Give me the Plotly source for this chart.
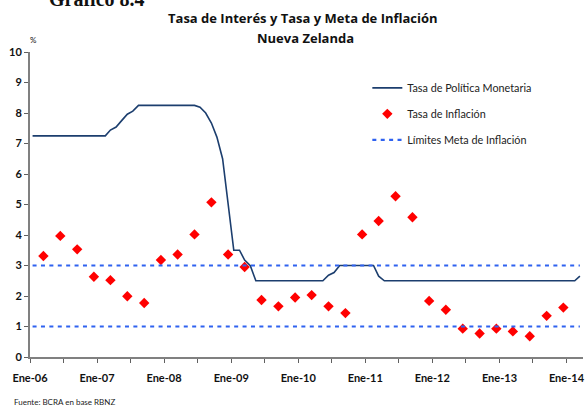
import plotly.graph_objects as go
import pandas as pd

# --- Data ---------------------------------------------------------------
ocr_dates = [d + pd.Timedelta(days=14) for d in pd.date_range("2006-01-01", "2014-03-01", freq="MS")]
ocr_values = [
    7.25, 7.25, 7.25, 7.25, 7.25, 7.25, 7.25, 7.25, 7.25, 7.25, 7.25, 7.25,   # 2006
    7.25, 7.25, 7.44, 7.54, 7.75, 7.96, 8.06, 8.25, 8.25, 8.25, 8.25, 8.25,   # 2007
    8.25, 8.25, 8.25, 8.25, 8.25, 8.25, 8.19, 8.00, 7.67, 7.21, 6.50, 5.00,   # 2008
    3.50, 3.50, 3.18, 2.99, 2.50, 2.50, 2.50, 2.50, 2.50, 2.50, 2.50, 2.50,   # 2009
    2.50, 2.50, 2.50, 2.50, 2.50, 2.68, 2.77, 3.00, 3.00, 3.00, 3.00, 3.00,   # 2010
    3.00, 3.00, 2.65, 2.50, 2.50, 2.50, 2.50, 2.50, 2.50, 2.50, 2.50, 2.50,   # 2011
    2.50, 2.50, 2.50, 2.50, 2.50, 2.50, 2.50, 2.50, 2.50, 2.50, 2.50, 2.50,   # 2012
    2.50, 2.50, 2.50, 2.50, 2.50, 2.50, 2.50, 2.50, 2.50, 2.50, 2.50, 2.50,   # 2013
    2.50, 2.50, 2.65,                                                         # 2014
]

infl_dates = [d + pd.Timedelta(days=14) for d in pd.date_range("2006-03-01", "2013-12-01", freq="3MS")]
infl_values = [
    3.31, 3.97, 3.53, 2.63,
    2.52, 1.99, 1.77, 3.18,
    3.36, 4.02, 5.07, 3.36,
    2.95, 1.87, 1.66, 1.95,
    2.03, 1.66, 1.44, 4.02,
    4.46, 5.27, 4.58, 1.84,
    1.55, 0.93, 0.77, 0.93,
    0.84, 0.68, 1.35, 1.62,
]

target_upper = [3.0 for _ in ocr_dates]
target_lower = [1.0 for _ in ocr_dates]

tick_dates = list(pd.date_range("2006-01-01", "2014-01-01", freq="6MS"))
tick_text = [("Ene-%02d" % (d.year % 100)) if d.month == 1 else "" for d in tick_dates]

FONT = "Lato"
TFONT = "Open Sans"

fig = go.Figure()

fig.add_trace(go.Scatter(
    x=ocr_dates, y=ocr_values, mode="lines",
    name="Tasa de Política Monetaria",
    line=dict(color="#1c3e6e", width=1.6),
    legendgroup="a",
))
fig.add_trace(go.Scatter(
    x=infl_dates, y=infl_values, mode="markers",
    name="Tasa de Inflación",
    marker=dict(symbol="diamond", size=8, color="#ff0000", line=dict(width=0)),
    legendgroup="b",
))
fig.add_trace(go.Scatter(
    x=ocr_dates, y=target_upper, mode="lines",
    name="Límites Meta de Inflación",
    line=dict(color="#2f62f0", width=2.2, dash="4px,4.4px"),
    legendgroup="c",
))
fig.add_trace(go.Scatter(
    x=ocr_dates, y=target_lower, mode="lines",
    name="Límites Meta de Inflación",
    line=dict(color="#2f62f0", width=2.2, dash="4px,4.4px"),
    showlegend=False,
    legendgroup="c",
))

fig.update_layout(
    width=588, height=410,
    margin=dict(l=30, r=5, t=52, b=53),
    paper_bgcolor="white", plot_bgcolor="white",
    font=dict(family=FONT, color="#111111"),
    showlegend=True,
    legend=dict(
        x=0.61, y=0.93, xanchor="left", yanchor="top",
        bgcolor="rgba(0,0,0,0)",
        font=dict(family=FONT, size=10.8, color="#222222"),
        itemwidth=30, tracegroupgap=7,
    ),
    xaxis=dict(
        type="date", automargin=False,
        range=["2006-01-01", "2014-04-01"],
        tickvals=tick_dates, ticktext=tick_text,
        showgrid=False, zeroline=False,
        showline=True, linecolor="#808080", linewidth=2,
        ticks="outside", ticklen=4, tickwidth=1, tickcolor="#606060",
        ticklabelstandoff=6,
        tickfont=dict(family=FONT, size=11, color="#111111", weight="bold"),
    ),
    yaxis=dict(
        range=[0, 10], dtick=1, automargin=False,
        showgrid=False, zeroline=False,
        showline=True, linecolor="#808080", linewidth=2,
        ticks="outside", ticklen=4, tickwidth=1, tickcolor="#606060",
        tickfont=dict(family=FONT, size=11, color="#111111", weight="bold"),
    ),
    annotations=[
        dict(text="Gráfico 8.4", xref="paper", yref="paper",
             x=(47 - 30) / 553, y=(356.7 + 1) / 304.7, xanchor="left", yanchor="middle",
             showarrow=False,
             font=dict(family="Liberation Serif", size=20, color="#111111", weight="bold")),
        dict(text="Tasa de Interés y Tasa y Meta de Inflación", xref="paper", yref="paper",
             x=(303 - 30) / 553, y=(356.7 - 18) / 304.7, xanchor="center", yanchor="middle",
             showarrow=False,
             font=dict(family=TFONT, size=13, color="#111111", weight="bold")),
        dict(text="Nueva Zelanda", xref="paper", yref="paper",
             x=(305 - 30) / 553, y=(356.7 - 38) / 304.7, xanchor="center", yanchor="middle",
             showarrow=False,
             font=dict(family=TFONT, size=13, color="#111111", weight="bold")),
        dict(text="%", xref="paper", yref="paper",
             x=(33 - 30) / 553, y=(356.7 - 40) / 304.7, xanchor="center", yanchor="middle",
             showarrow=False,
             font=dict(family=FONT, size=8, color="#111111")),
        dict(text="Fuente: BCRA en base RBNZ", xref="paper", yref="paper",
             x=(12 - 30) / 553, y=(356.7 - 401.5) / 304.7, xanchor="left", yanchor="middle",
             showarrow=False,
             font=dict(family=FONT, size=8, color="#222222")),
    ],
)

fig.write_html(
    "out.html",
    config={"displayModeBar": False},
    post_script="document.body.style.margin='0';document.body.style.overflow='hidden';",
)
